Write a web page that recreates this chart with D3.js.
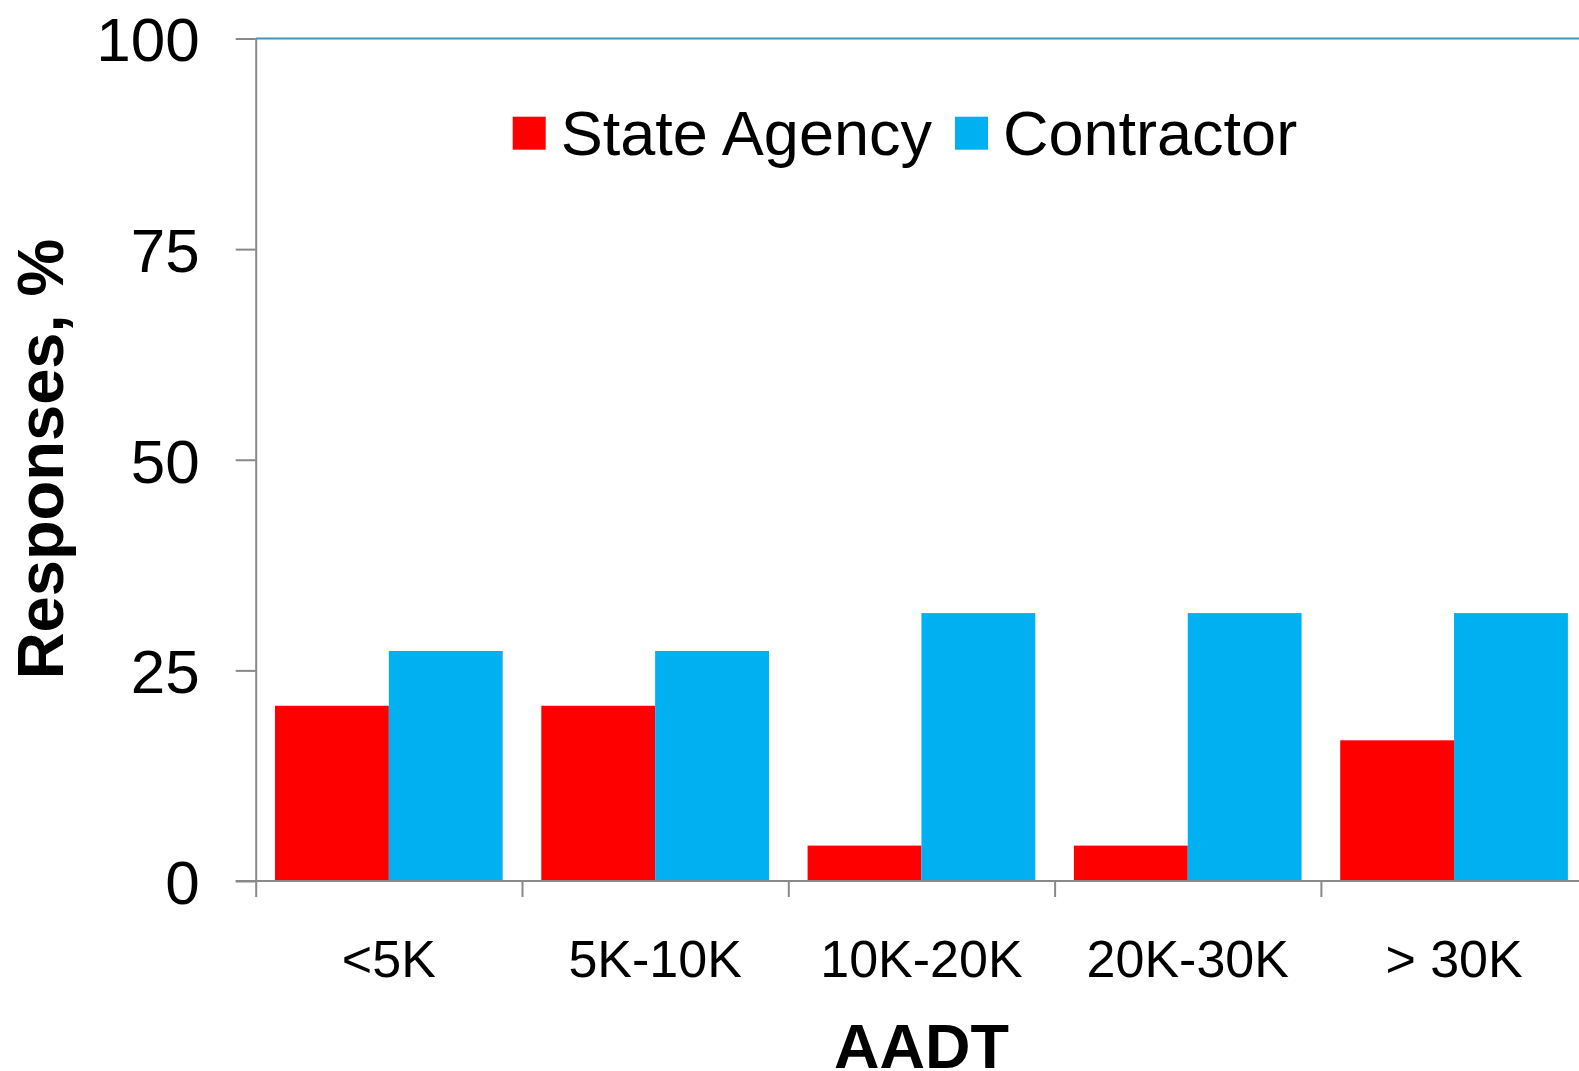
<!DOCTYPE html>
<html>
<head>
<meta charset="utf-8">
<script src="https://cdn.jsdelivr.net/npm/d3@7"></script>
<style>
  body { margin: 0; background: #fff; }
  svg { display: block; font-family: "Liberation Sans", Arial, sans-serif; }
</style>
</head>
<body>
<svg width="1579" height="1071"></svg>
<script>
// data
var categories = ["<5K", "5K-10K", "10K-20K", "20K-30K", "> 30K"];
var seriesNames = ["State Agency", "Contractor"];
var stateAgency = [20.8, 20.8, 4.2, 4.2, 16.7];
var contractor = [27.3, 27.3, 31.8, 31.8, 31.8];
var yTicks = [0, 25, 50, 75, 100];

var colors = ["#ff0000", "#00b0f0"],
    axisColor = "#898989",
    topLineColor = "#3d98b4";

var svg = d3.select("svg"),
    margin = { left: 255.7, top: 38.5 },
    step = 266.3,
    width = step * categories.length,
    height = 881 - margin.top;

var rows = categories.map(function (c, i) {
    return { cat: c, values: [stateAgency[i], contractor[i]] };
});

var x0 = d3.scaleBand().domain(categories).range([0, width])
    .paddingInner(0.145).paddingOuter(0.0725);
var x1 = d3.scaleBand().domain(seriesNames).range([0, x0.bandwidth()]);
var xb = d3.scaleLinear().domain([0, categories.length]).range([0, width]);
var y = d3.scaleLinear().domain([0, 100]).range([height, 0]);

var g = svg.append("g")
    .attr("transform", "translate(" + margin.left + "," + margin.top + ")");

// top line at 100
g.append("line")
    .attr("x1", 0).attr("x2", width)
    .attr("y1", y(100)).attr("y2", y(100))
    .attr("stroke", topLineColor)
    .attr("stroke-width", 2);

// bars
g.append("g").selectAll("g")
    .data(rows)
    .enter().append("g")
    .attr("transform", function (d) { return "translate(" + x0(d.cat) + ",0)"; })
    .selectAll("rect")
    .data(function (d) { return d.values.map(function (v, k) { return { key: seriesNames[k], k: k, v: v }; }); })
    .enter().append("rect")
    .attr("x", function (d) { return x1(d.key); })
    .attr("width", x1.bandwidth())
    .attr("y", function (d) { return y(d.v); })
    .attr("height", function (d) { return height - y(d.v); })
    .attr("fill", function (d) { return colors[d.k]; });

// y axis
var yAxis = g.append("g")
    .call(d3.axisLeft(y).tickValues(yTicks).tickSize(20).tickSizeOuter(0).tickPadding(36));
yAxis.select(".domain").attr("stroke", axisColor).attr("stroke-width", 2);
yAxis.selectAll(".tick line").attr("stroke", axisColor).attr("stroke-width", 2);
yAxis.selectAll(".tick text")
    .attr("font-size", 62)
    .attr("font-family", "Liberation Sans, Arial, sans-serif")
    .attr("fill", "#000")
    .attr("dy", "0.36em");
// top tick drawn gray over the teal line
yAxis.selectAll(".tick").filter(function (d) { return d === 100; }).raise();

// x axis: boundary ticks
var xAxis = g.append("g")
    .attr("transform", "translate(0," + height + ")")
    .call(d3.axisBottom(xb).ticks(categories.length).tickFormat("").tickSize(16).tickSizeOuter(0));
xAxis.select(".domain").attr("stroke", axisColor).attr("stroke-width", 2)
    .attr("d", "M-20,0H" + width);
xAxis.selectAll(".tick line").attr("stroke", axisColor).attr("stroke-width", 2);

// x axis: category labels
var xLabels = g.append("g")
    .attr("transform", "translate(0," + height + ")")
    .call(d3.axisBottom(x0).tickSize(0).tickPadding(0));
xLabels.select(".domain").remove();
xLabels.selectAll(".tick text")
    .attr("font-size", 52)
    .attr("font-family", "Liberation Sans, Arial, sans-serif")
    .attr("fill", "#000")
    .attr("y", 95.7)
    .attr("dy", 0);

// axis titles
svg.append("text")
    .attr("transform", "translate(63," + 459 + ") rotate(-90)")
    .attr("text-anchor", "middle")
    .attr("font-size", 65)
    .attr("font-weight", "bold")
    .text("Responses, %");

svg.append("text")
    .attr("x", margin.left + width / 2)
    .attr("y", 1068)
    .attr("text-anchor", "middle")
    .attr("font-size", 63)
    .attr("font-weight", "bold")
    .text("AADT");

// legend
var legendX = [512.7, 955];
var legend = svg.append("g").selectAll("g")
    .data(seriesNames)
    .enter().append("g")
    .attr("transform", function (d, i) { return "translate(" + legendX[i] + ",116.7)"; });
legend.append("rect")
    .attr("width", 33).attr("height", 33)
    .attr("fill", function (d, i) { return colors[i]; });
legend.append("text")
    .attr("x", 48)
    .attr("y", 38.5)
    .attr("font-size", 63)
    .attr("fill", "#000")
    .text(function (d) { return d; });
</script>
</body>
</html>
